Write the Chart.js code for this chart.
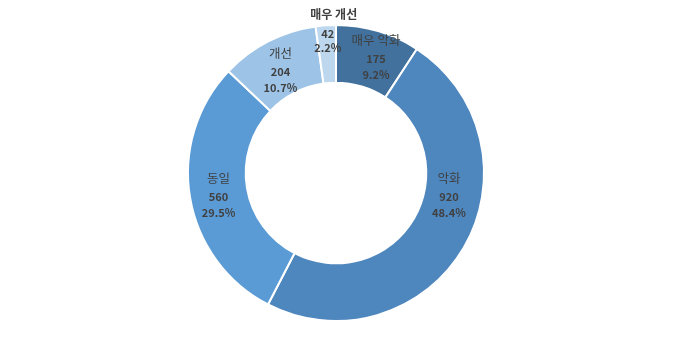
<!DOCTYPE html>
<html><head><meta charset="utf-8">
<script src="https://cdn.jsdelivr.net/npm/chart.js@4"></script>
<style>html,body{margin:0;padding:0;background:#fff}#w{width:680px;height:343px}</style>
</head><body><div id="w"><canvas id="c"></canvas></div>
<script>
const categories = ['매우 악화', '악화', '동일', '개선', '매우 개선'];
const values = [175, 920, 560, 204, 42];
const percents = ['9.2%', '48.4%', '29.5%', '10.7%', '2.2%'];
const colors = ['#41719C', '#4E86BE', '#5B9BD5', '#9DC3E6', '#BDD7EE'];
// label nudges relative to arc centroid (Excel best-fit placement)
const labelDx = [6, 10, 0, -1, 0];
const labelDy = [-1, -37, 3, 4, -20];

const labelPlugin = {
  id: 'lbl',
  afterDatasetsDraw(chart) {
    const ctx = chart.ctx;
    const meta = chart.getDatasetMeta(0);
    meta.data.forEach((arc, i) => {
      const p = arc.tooltipPosition();
      const x = p.x + labelDx[i], y = p.y + labelDy[i];
      ctx.save();
      ctx.textAlign = 'center';
      ctx.textBaseline = 'middle';
      ctx.fillStyle = '#404040';
      if (i === 4) {
        ctx.font = 'bold 12px "Noto Sans CJK KR", sans-serif';
        ctx.fillText(categories[i], x + 6, y - 20);
        ctx.font = 'bold 11px "Noto Sans CJK KR", sans-serif';
        ctx.fillText(String(values[i]), x, y);
        ctx.fillText(percents[i], x, y + 14);
      } else {
        ctx.font = '12.5px "Noto Sans CJK KR", sans-serif';
        ctx.fillText(categories[i], x, y - 18);
        ctx.font = 'bold 11px "Noto Sans CJK KR", sans-serif';
        ctx.fillText(String(values[i]), x, y + 1);
        ctx.fillText(percents[i], x, y + 17);
      }
      ctx.restore();
    });
  }
};

new Chart(document.getElementById('c'), {
  type: 'doughnut',
  data: {
    labels: categories,
    datasets: [{
      data: values,
      backgroundColor: colors,
      borderColor: '#ffffff',
      borderWidth: 2
    }]
  },
  options: {
    responsive: true,
    maintainAspectRatio: false,
    animation: false,
    cutout: '61%',
    layout: { padding: { top: 24, bottom: 21, left: 0, right: 8 } },
    plugins: { legend: { display: false }, tooltip: { enabled: false } }
  },
  plugins: [labelPlugin]
});
</script>
</body></html>
